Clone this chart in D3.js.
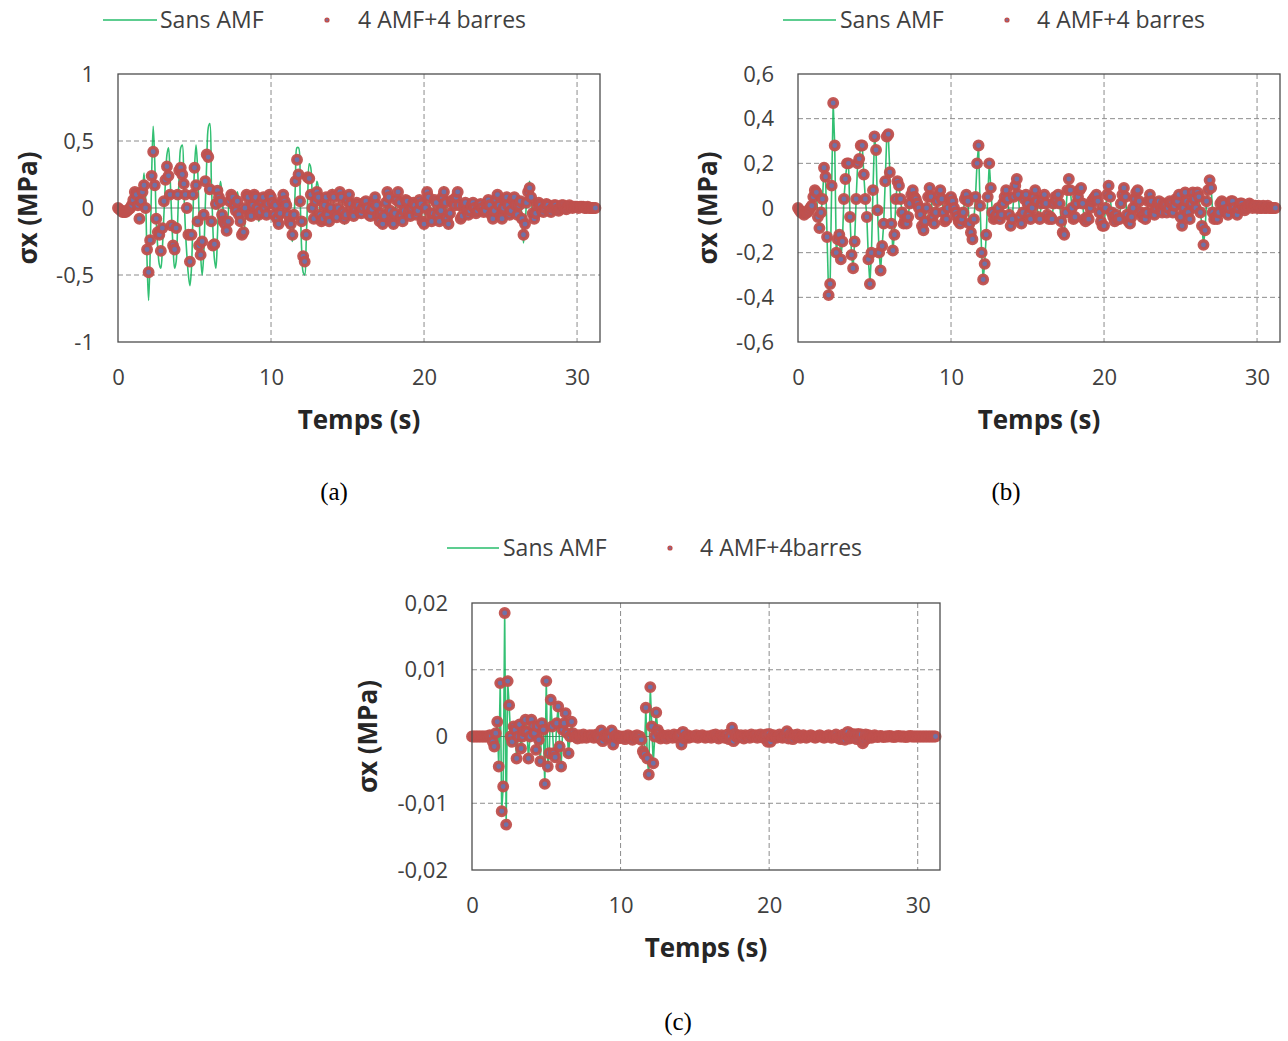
<!DOCTYPE html>
<html><head><meta charset="utf-8">
<script src="https://cdn.jsdelivr.net/npm/d3@7"></script>
<style>
body{margin:0;background:#fff}
svg{display:block}
text{font-family:"Open Sans",Lato,sans-serif}
text.cap{font-family:"Liberation Serif","Times New Roman",serif}
</style>
</head><body>
<svg id="chart" width="1288" height="1041"></svg>
<script>
// ---------- data ----------
const sampleStep = 0.1;            // s between samples, first sample at t = 0
const xTicks = [0, 10, 20, 30];
const yTicksA = [-1, -0.5, 0, 0.5, 1];
const yTicksB = [-0.6, -0.4, -0.2, 0, 0.2, 0.4, 0.6];
const yTicksC = [-0.02, -0.01, 0, 0.01, 0.02];
const seriesNamesAB = ["Sans AMF", "4 AMF+4 barres"];
const seriesNamesC = ["Sans AMF", "4 AMF+4barres"];
const captions = ["(a)", "(b)", "(c)"];

// (a) Sans AMF (line)
const sansAMF_a = [
0,-0.01,-0.02,-0.03,-0.03,-0.03,-0.02,-0.01,0.01,0.03,
0.05,0.08,0.12,0.15,0.1,0.03,0.1,0.26,0.08,-0.4,
-0.69,-0.35,0.25,0.61,0.35,-0.1,-0.3,-0.42,-0.45,-0.3,
-0.05,0.2,0.4,0.45,0.25,-0.05,-0.3,-0.45,-0.4,-0.1,
0.25,0.45,0.47,0.15,-0.15,-0.35,-0.5,-0.58,-0.45,-0.05,
0.3,0.47,0.3,-0.05,-0.35,-0.5,-0.35,0.0,0.35,0.6,
0.63,0.2,-0.15,-0.38,-0.45,-0.2,0.1,0.2,0.1,-0.05,
-0.12,-0.15,-0.05,0.08,0.1,0.02,-0.05,0.03,0.12,0.05,
-0.08,-0.15,-0.2,-0.1,0.05,0.1,0.02,-0.08,-0.05,0.08,
0.1,0.0,-0.1,-0.05,0.08,0.1,0.0,-0.07,-0.02,0.08,
0.1,0.05,-0.03,-0.06,0.02,-0.08,-0.14,-0.1,0.0,0.05,
0.0,-0.08,-0.12,-0.2,-0.25,-0.1,0.2,0.45,0.45,0.1,
-0.3,-0.48,-0.5,-0.25,0.1,0.33,0.3,0.05,-0.1,0.05,
0.2,0.15,-0.05,-0.12,-0.05,0.05,0.0,-0.1,-0.06,0.05,
0.14,0.05,-0.08,-0.1,0.0,0.12,0.1,-0.05,-0.12,-0.05,
0.08,0.12,0.05,-0.05,-0.08,0.0,0.05,0.03,-0.04,-0.05,
0.0,0.05,0.06,0.0,-0.06,-0.08,-0.02,0.06,0.1,0.02,
-0.08,-0.12,-0.05,-0.15,-0.08,0.05,0.14,0.1,-0.02,-0.12,
-0.15,-0.05,0.08,0.15,0.05,-0.08,-0.12,-0.02,0.08,0.06,
-0.04,-0.08,0.0,0.05,0.02,-0.06,-0.02,0.08,0.04,-0.12,
-0.15,0.0,0.15,0.1,-0.05,-0.12,-0.05,0.08,0.05,-0.06,
-0.12,-0.02,0.1,0.16,0.05,-0.1,-0.15,-0.05,0.06,0.08,
0.02,0.1,0.15,0.02,-0.1,-0.08,0.02,0.05,-0.02,-0.06,
-0.02,0.03,0.05,0.0,-0.05,-0.03,0.02,0.04,0.0,-0.04,
-0.02,0.04,0.08,0.03,-0.06,-0.1,-0.02,0.08,0.12,0.03,
-0.08,-0.1,0.0,0.08,0.1,0.02,-0.06,-0.02,0.08,0.1,
0.02,-0.06,0.02,0.06,-0.1,-0.26,-0.15,0.05,0.15,0.2,
0.1,-0.05,-0.1,-0.05,0.02,0.05,0.03,-0.02,-0.04,0.0,
0.04,0.03,-0.02,-0.04,0.0,0.03,0.02,-0.02,-0.03,0.0,
0.03,0.02,-0.01,-0.02,0.01,0.03,0.02,0.0,0.01,0.02,
0.01,0.0,0.01,0.02,0.01,0.0,0.01,0.01,0.0,0.0,
0.0,0.0,0.0];

// (a) 4 AMF+4 barres (markers)
const amf_a = [
0,-0.01,-0.02,-0.03,-0.03,-0.03,-0.02,-0.01,0.0,0.02,
0.06,0.12,0.1,0.02,-0.08,0.05,0.12,0.17,0.0,-0.31,
-0.48,-0.24,0.24,0.42,0.17,-0.08,-0.18,-0.2,-0.32,-0.15,
0.05,0.21,0.31,0.24,0.1,-0.13,-0.28,-0.31,-0.15,0.1,
0.28,0.3,0.25,0.18,0.1,0.0,-0.2,-0.4,-0.2,0.1,
0.3,0.17,-0.1,-0.28,-0.35,-0.25,-0.05,0.2,0.4,0.38,
0.14,-0.1,-0.28,-0.27,0.03,0.13,0.08,0.05,-0.05,-0.1,
-0.12,-0.17,-0.1,0.05,0.1,0.08,0.02,-0.02,0.05,-0.05,
-0.1,-0.2,-0.18,0.0,0.1,0.08,-0.05,-0.06,0.02,0.1,
0.08,0.0,-0.05,-0.03,0.05,0.08,0.0,-0.05,0.03,0.1,
0.08,0.04,-0.05,0.02,-0.08,-0.12,-0.04,0.05,0.1,0.05,
0.02,-0.05,-0.1,-0.12,-0.2,-0.05,0.2,0.36,0.25,0.05,
-0.1,-0.36,-0.4,-0.2,0.23,0.22,0.1,0.0,-0.08,0.05,
0.12,0.08,-0.05,-0.1,-0.08,0.02,0.08,-0.05,-0.1,0.0,
0.1,0.08,-0.05,-0.07,0.0,0.12,0.08,-0.03,-0.08,-0.05,
0.05,0.1,0.03,-0.04,-0.06,0.0,0.04,0.02,-0.03,-0.04,
0.0,0.04,0.05,0.0,-0.05,-0.06,-0.01,0.05,0.08,0.02,
-0.06,-0.1,-0.04,-0.12,-0.06,0.04,0.12,0.08,-0.02,-0.1,
-0.12,-0.04,0.06,0.12,0.04,-0.06,-0.1,-0.02,0.06,0.05,
-0.03,-0.06,0.0,0.04,0.02,-0.05,-0.02,0.06,0.03,-0.1,
-0.12,0.0,0.12,0.08,-0.04,-0.1,-0.04,0.06,0.04,-0.05,
-0.1,-0.02,0.08,0.12,0.04,-0.08,-0.12,-0.04,0.05,0.06,
0.02,0.08,0.12,0.02,-0.08,-0.06,0.02,0.04,-0.02,-0.05,
-0.02,0.02,0.04,0.0,-0.04,-0.02,0.02,0.03,0.0,-0.03,
-0.02,0.03,0.06,0.02,-0.05,-0.08,-0.02,0.06,0.1,0.02,
-0.06,-0.08,0.0,0.06,0.08,0.02,-0.05,-0.02,0.06,0.08,
0.02,-0.05,0.02,0.05,-0.08,-0.2,-0.12,0.04,0.12,0.15,
0.08,-0.04,-0.08,-0.04,0.02,0.04,0.02,-0.02,-0.03,0.0,
0.03,0.02,-0.02,-0.03,0.0,0.02,0.02,-0.01,-0.02,0.0,
0.02,0.02,0.0,-0.01,0.01,0.02,0.01,0.0,0.01,0.01,
0.01,0.0,0.01,0.01,0.01,0.0,0.0,0.01,0.0,0.0,
0.0,0.0,0.0];

// (b) both series coincide in the picture (line passes through every marker)
const sansAMF_b = [
0.0,-0.01,-0.02,-0.02,-0.03,-0.02,-0.02,-0.01,0.0,0.01,
0.05,0.08,0.07,-0.04,-0.09,-0.02,0.04,0.18,0.14,-0.13,
-0.39,-0.34,0.1,0.47,0.28,-0.2,-0.14,-0.12,-0.23,-0.15,
0.04,0.13,0.2,0.2,-0.04,-0.21,-0.27,-0.15,0.04,0.2,
0.22,0.28,0.28,0.15,0.04,-0.04,-0.23,-0.34,-0.2,0.08,
0.32,0.26,-0.01,-0.2,-0.28,-0.17,-0.07,0.12,0.32,0.33,
0.16,-0.07,-0.19,-0.12,0.04,0.12,0.1,0.04,-0.02,-0.07,
-0.05,-0.07,-0.04,0.02,0.06,0.08,0.05,0.04,0.02,0.0,
-0.03,-0.08,-0.1,-0.06,0.0,0.05,0.09,0.05,-0.04,-0.07,
-0.02,0.03,0.06,0.08,0.04,-0.02,-0.06,-0.05,0.0,0.04,
0.05,0.03,0.0,-0.02,-0.04,-0.06,-0.07,-0.05,-0.02,0.04,
0.06,0.03,-0.07,-0.11,-0.14,-0.05,0.05,0.2,0.28,0.01,
-0.2,-0.32,-0.25,-0.12,0.05,0.2,0.09,-0.02,-0.05,-0.04,
-0.03,0.0,-0.05,-0.03,0.02,0.05,0.08,0.04,-0.03,-0.08,
-0.05,0.05,0.1,0.13,0.06,-0.04,-0.07,-0.02,0.04,0.06,
0.02,-0.03,-0.05,0.0,0.05,0.08,0.03,-0.04,-0.05,0.02,
0.04,0.06,0.02,-0.03,-0.05,-0.04,-0.05,0.02,0.05,0.03,
0.06,0.02,-0.06,-0.11,-0.12,-0.02,0.08,0.13,0.08,0.0,
-0.05,-0.04,0.02,0.05,0.08,0.09,0.02,-0.05,-0.06,-0.04,
-0.05,0.0,0.03,0.04,0.05,0.06,0.03,-0.02,-0.06,-0.08,
-0.08,0.0,0.06,0.1,0.05,-0.02,-0.04,-0.06,-0.03,-0.05,
-0.05,0.02,0.06,0.09,0.05,-0.03,-0.06,-0.07,-0.04,0.0,
0.04,0.07,0.08,0.03,-0.02,-0.04,-0.03,-0.05,-0.02,0.03,
0.06,0.03,-0.02,-0.03,0.0,0.02,0.03,-0.01,-0.02,0.02,
0.01,-0.02,0.0,0.03,0.02,-0.02,0.01,0.04,0.03,0.06,
-0.04,-0.08,0.0,0.07,0.03,-0.02,-0.05,0.02,0.07,0.04,
0.0,0.07,0.05,-0.02,-0.08,-0.165,-0.1,0.03,0.08,0.125,
0.09,-0.02,-0.05,-0.04,-0.05,-0.02,0.02,0.03,0.02,-0.01,
-0.02,-0.03,0.0,0.03,0.03,0.0,-0.02,-0.03,0.0,0.02,
0.02,0.0,-0.01,0.0,0.01,0.02,0.01,0.0,0.01,0.01,
0.0,0.01,0.0,0.0,0.01,0.0,0.0,0.01,0.0,0.0,
0.0,0.0,0.0];
const amf_b = sansAMF_b;

// (c) both series coincide in the picture
const sansAMF_c = [
0,0,0,0,0,0,0,0,0,0,
0,0,0.0002,0.0,-0.0008,-0.0015,0.0005,0.0022,-0.0045,0.008,
-0.0112,-0.0075,0.0185,-0.0132,0.0083,0.0047,0.0,-0.0008,0.0015,0.001,
-0.0033,0.0,0.0018,-0.0018,0.0,0.0008,0.0025,0.0007,-0.0033,0.0,
0.0025,0.0015,0.0005,-0.002,0.0015,-0.0005,-0.0037,0.002,0.001,-0.0071,
0.0083,-0.0045,-0.0025,0.0055,0.0015,-0.0025,-0.0031,0.002,0.0045,-0.0015,
-0.0045,0.001,0.002,0.0035,0.0005,-0.0025,0.0,0.0022,0.0005,0.0,
0.0,-0.0003,0.0002,0.0,-0.0002,0.0003,0.0,-0.0002,0.0,0.0002,
0.0,0.0002,-0.0002,0.0,0.0003,0.0,-0.0003,0.0009,-0.0007,0.0002,
0.0,-0.0002,0.0003,0.0,0.0009,-0.0012,0.0,0.0002,-0.0003,0.0,
0.0,-0.0002,0.0,-0.0004,0.0,0.0002,-0.0002,0.0,-0.0005,0.0,
0.0,0.0002,-0.0003,0.0,-0.0005,-0.0022,-0.0027,0.0043,-0.0033,-0.0057,
0.0074,0.0015,-0.004,0.0,0.0036,0.001,0.0005,-0.0003,0.0002,0.0,
0.0,-0.0003,0.0002,0.0,0.0,-0.0002,0.0003,0.0,-0.0002,0.0,
0.0003,-0.0012,0.0007,-0.0003,0.0,0.0002,-0.0002,0.0,0.0,0.0,
0.0,0.0002,-0.0002,0.0,0.0,0.0002,0.0,-0.0002,0.0,0.0,
0.0,-0.0002,0.0002,0.0,0.0003,0.0,-0.0003,0.0,0.0002,0.0,
-0.0002,0.0,0.0003,-0.0004,0.0,0.0013,-0.0007,0.0004,0.0,-0.0002,
0.0,0.0002,0.0,-0.0003,0.0002,0.0,0.0,-0.0002,0.0003,0.0,
0.0,0.0002,-0.0002,0.0,0.0003,0.0,-0.0002,0.0,0.0003,-0.0008,
0.0004,-0.0008,0.0,0.0002,0.0,-0.0002,0.0,0.0003,0.0,-0.0002,
0.0,0.0002,0.0008,-0.0003,0.0003,0.0,-0.0004,0.0002,0.0,0.0003,
0.0,-0.0002,0.0,0.0002,0.0,-0.0002,0.0,0.0,0.0002,0.0,
0.0,-0.0002,0.0,0.0,0.0002,0.0,0.0,-0.0002,0.0,0.0,
0.0002,0.0,-0.0002,0.0,0.0,0.0003,-0.0002,0.0,-0.0004,0.0,
0.0003,-0.0005,0.0002,0.0007,-0.0003,0.0,0.0004,-0.0002,0.0003,-0.0004,
0.0004,-0.0002,0.0003,-0.001,-0.0006,0.0003,-0.0003,0.0002,0.0,-0.0002,
0.0,0.0002,0.0,-0.0001,0.0,0.0001,0.0,-0.0001,0.0,0.0,
0.0,0.0001,0.0,0.0,-0.0001,0.0,0.0,0.0001,0.0,0.0,
0.0,0.0,-0.0001,0.0,0.0,0.0001,0.0,0.0,0.0,0.0,
0,0,0,0,0,0,0,0,0,0,
0,0,0];
const amf_c = sansAMF_c;

// ---------- drawing ----------
const svg = d3.select("#chart");
const loc = d3.formatLocale({decimal: ",", thousands: " ", grouping: [3], currency: ["", ""], minus: "-"});
const fmt = loc.format("~g");
const GREEN = "#00b050", RED = "#c0504d", FILL = "#6f72a8", GRID = "#8c8c8c", TXT = "#404040";

const panels = [
  {line: sansAMF_a, marks: amf_a, yTicks: yTicksA, smooth: true, names: seriesNamesAB,
   left: 118, right: 600, top: 74, bottom: 342, yTitleX: 28, legY: 20,
   leg: [103, 157, 160, 327, 358], cap: [334, 492], caption: captions[0]},
  {line: sansAMF_b, marks: amf_b, yTicks: yTicksB, smooth: false, names: seriesNamesAB,
   left: 798, right: 1280, top: 74, bottom: 342, yTitleX: 708, legY: 20,
   leg: [783, 836, 840, 1007, 1037], cap: [1006, 492], caption: captions[1]},
  {line: sansAMF_c, marks: amf_c, yTicks: yTicksC, smooth: false, names: seriesNamesC,
   left: 472, right: 940, top: 603, bottom: 870, yTitleX: 368, legY: 548,
   leg: [447, 499, 503, 670, 700], cap: [678, 1022], caption: captions[2]}
];

panels.forEach(p => {
  const g = svg.append("g");
  const x = d3.scaleLinear().domain([0, 31.5]).range([p.left, p.right]);
  const y = d3.scaleLinear().domain([p.yTicks[0], p.yTicks[p.yTicks.length - 1]]).range([p.bottom, p.top]);

  // grid
  g.append("g").selectAll("line").data(xTicks.filter(v => v > 0)).join("line")
    .attr("x1", d => x(d)).attr("x2", d => x(d)).attr("y1", p.top).attr("y2", p.bottom)
    .attr("stroke", GRID).attr("stroke-width", 1).attr("stroke-dasharray", "5,3");
  g.append("g").selectAll("line").data(p.yTicks.slice(1, -1).filter(v => v !== 0)).join("line")
    .attr("x1", p.left).attr("x2", p.right).attr("y1", d => y(d)).attr("y2", d => y(d))
    .attr("stroke", GRID).attr("stroke-width", 1).attr("stroke-dasharray", "5,3");
  // zero line
  g.append("line").attr("x1", p.left).attr("x2", p.right).attr("y1", y(0)).attr("y2", y(0))
    .attr("stroke", "#7f7f7f").attr("stroke-width", 1.2);

  // axes (labels only)
  const ax = g.append("g").attr("transform", `translate(${p.left},0)`)
    .call(d3.axisLeft(y).tickValues(p.yTicks).tickFormat(fmt).tickSize(0).tickPadding(24));
  const bx = g.append("g").attr("transform", `translate(0,${p.bottom})`)
    .call(d3.axisBottom(x).tickValues(xTicks).tickFormat(fmt).tickSize(0).tickPadding(27));
  [ax, bx].forEach(a => {
    a.select(".domain").remove();
    a.selectAll("text").attr("font-family", null).attr("font-size", 22).attr("fill", TXT);
  });

  // series
  const pts = p.line.map((v, i) => [i * sampleStep, v]);
  const mpts = p.marks.map((v, i) => [i * sampleStep, v]);
  const lineGen = d3.line().x(d => x(d[0])).y(d => y(d[1]))
    .curve(p.smooth ? d3.curveCatmullRom.alpha(0.5) : d3.curveLinear);
  g.append("path").datum(pts).attr("d", lineGen).attr("fill", "none")
    .attr("stroke", GREEN).attr("stroke-opacity", 0.8).attr("stroke-width", 1.6);
  g.append("g").selectAll("circle").data(mpts).join("circle")
    .attr("cx", d => x(d[0])).attr("cy", d => y(d[1])).attr("r", 4.2)
    .attr("fill", FILL).attr("stroke", RED).attr("stroke-width", 3.5).attr("stroke-opacity", 0.95);

  // plot border
  g.append("rect").attr("x", p.left).attr("y", p.top).attr("width", p.right - p.left)
    .attr("height", p.bottom - p.top).attr("fill", "none").attr("stroke", "#4d4d4d").attr("stroke-width", 1.3);

  // titles
  g.append("text").attr("x", (p.left + p.right) / 2).attr("y", p.bottom + 87)
    .attr("text-anchor", "middle").attr("font-size", 26).attr("font-weight", "bold")
    .attr("fill", "#262626").text("Temps (s)");
  g.append("text").attr("transform", `translate(${p.yTitleX + 9},${(p.top + p.bottom) / 2}) rotate(-90)`)
    .attr("text-anchor", "middle").attr("font-size", 26).attr("font-weight", "bold")
    .attr("fill", "#262626").text("σx (MPa)");

  // legend
  const [l0, l1, t0, mx, t1] = p.leg;
  g.append("line").attr("x1", l0).attr("x2", l1).attr("y1", p.legY).attr("y2", p.legY)
    .attr("stroke", GREEN).attr("stroke-width", 1.5).attr("stroke-opacity", 0.85);
  g.append("text").attr("x", t0).attr("y", p.legY + 8).attr("font-size", 23).attr("fill", TXT).text(p.names[0]);
  g.append("circle").attr("cx", mx).attr("cy", p.legY).attr("r", 1.8)
    .attr("fill", FILL).attr("stroke", RED).attr("stroke-width", 1.6);
  g.append("text").attr("x", t1).attr("y", p.legY + 8).attr("font-size", 23).attr("fill", TXT).text(p.names[1]);

  // caption
  svg.append("text").attr("class", "cap").attr("x", p.cap[0]).attr("y", p.cap[1] + 8)
    .attr("text-anchor", "middle").attr("font-size", 25).attr("fill", "#000").text(p.caption);
});
</script>
</body></html>
